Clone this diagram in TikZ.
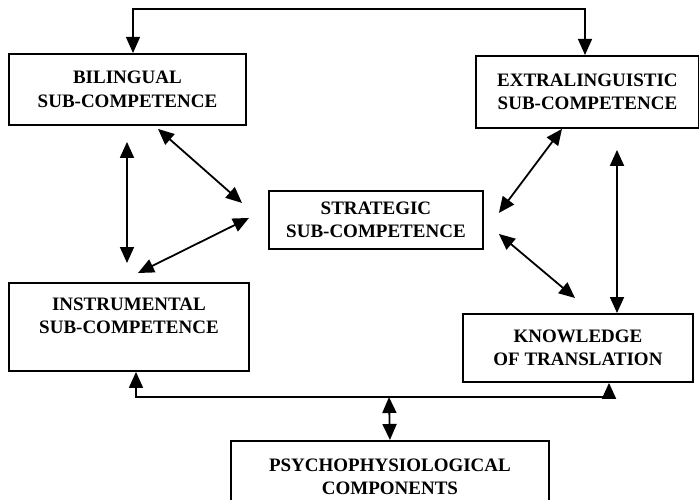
\documentclass[tikz,border=0pt]{standalone}
\usepackage{fontspec}
\setmainfont{Liberation Serif}
\usetikzlibrary{arrows.meta}

\newcommand*\linkwidth{1.8pt}
\newcommand*\boxfont{\bfseries\fontsize{19}{23.5}\selectfont}
\tikzset{competence/.style 2 args={
    draw,
    line width=1.9pt,
    font=\boxfont,
    rectangle,
    anchor=north west,
    inner sep=0pt,
    minimum width=#1,
    minimum height=#2,
    align=center
}}
\tikzset{twoway/.style={
    line width=\linkwidth,
    {Triangle[length=16pt,width=14pt]}-{Triangle[length=16pt,width=14pt]}
}}

\begin{document}
\begin{tikzpicture}[x=1pt,y=-1pt]

    \clip (0,0) rectangle (699,500);

    % First place the sub-competences.
    \node[competence={237}{71}] (bil) at (8,53) {BILINGUAL\\SUB-COMPETENCE};
    \node[competence={223}{72}] (ext) at (475,55) {EXTRALINGUISTIC\\SUB-COMPETENCE};
    \node[competence={214}{58}] (strat) at (268,190) {STRATEGIC\\SUB-COMPETENCE};
    \node[competence={240}{88},text depth=22pt] (instr) at (8,282) {INSTRUMENTAL\\SUB-COMPETENCE};
    \node[competence={230}{68}] (know) at (462,313) {KNOWLEDGE\\OF TRANSLATION};
    \node[competence={318}{72}] (psy) at (230,440) {PSYCHOPHYSIOLOGICAL\\COMPONENTS};

    % Draw the link from the top.
    \draw[twoway,line width=1.3pt] ([xshift=125]bil.north west) -- ++(0,-44) -| ([xshift=110]ext.north west);

    % Draw the links round the strategic sub-competence.
    \draw[twoway] ([xshift=119,yshift=-16]bil.south west) -- ([xshift=119,yshift=19]instr.north west);
    \draw[twoway] ([xshift=150,yshift=-3]bil.south west) -- ([xshift=-26,yshift=17]strat.west);
    \draw[twoway] ([xshift=130,yshift=9]instr.north west) -- ([xshift=-19,yshift=2]strat.west);
    \draw[twoway] ([xshift=87]ext.south west) -- ([xshift=15,yshift=7]strat.east);
    \draw[twoway] ([xshift=15,yshift=-14]strat.east) -- ([xshift=113,yshift=15]know.north west);
    \draw[twoway] ([xshift=142,yshift=-21]ext.south west) -- ([xshift=155]know.north west);

    % Draw the links to the psychophysiological components.
    \coordinate (base) at (389,397);
    \draw[twoway] ([xshift=128]instr.south west) |- (base) -| ([xshift=147]know.south west);
    \draw[twoway] (base) -- (psy.north);

\end{tikzpicture}
\end{document}
